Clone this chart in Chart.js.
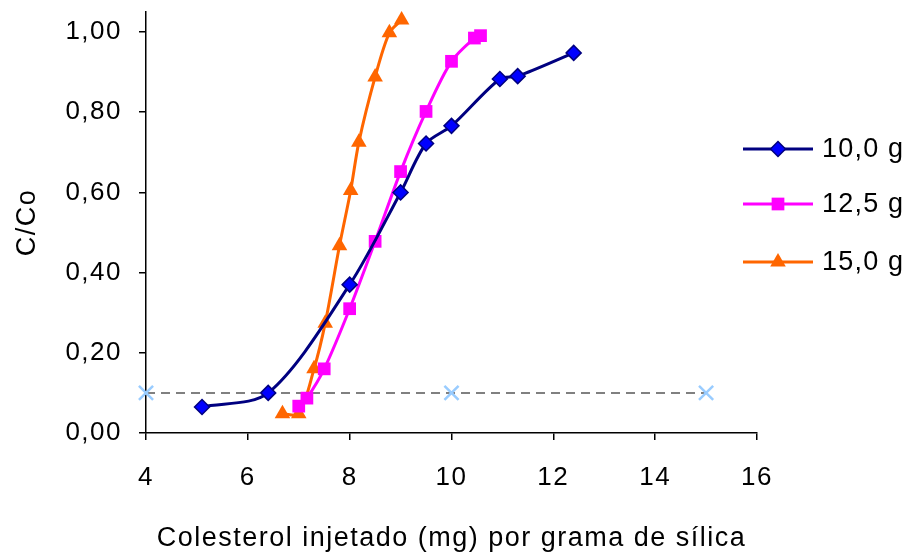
<!DOCTYPE html>
<html>
<head>
<meta charset="utf-8">
<script src="https://cdn.jsdelivr.net/npm/chart.js@4.4.1/dist/chart.umd.min.js"></script>
<style>
  html, body { margin: 0; padding: 0; background: #fff; }
  #wrap { width: 911px; height: 555px; position: relative; }
</style>
</head>
<body>
<div id="wrap"><canvas id="c" width="911" height="555"></canvas></div>
<script>
// Breakthrough curves: C/Co versus cholesterol injected per gram of silica
const x10 = [5.1, 6.4, 8.0, 9.0, 9.5, 10.0, 10.95, 11.3, 12.4];
const y10 = [0.065, 0.10, 0.37, 0.60, 0.722, 0.766, 0.883, 0.89, 0.948];

const x125 = [7.0, 7.16, 7.5, 8.0, 8.5, 9.0, 9.5, 10.0, 10.45, 10.57];
const y125 = [0.067, 0.087, 0.16, 0.31, 0.478, 0.652, 0.802, 0.927, 0.985, 0.991];

const x15 = [6.68, 7.0, 7.3, 7.52, 7.8, 8.02, 8.18, 8.5, 8.78, 9.02];
const y15 = [0.048, 0.048, 0.16, 0.274, 0.467, 0.605, 0.725, 0.888, 0.998, 1.03];

// 10 % breakthrough reference
const xRef = [4, 10, 15];
const yRef = [0.10, 0.10, 0.10];

const seriesNames = ['10,0 g', '12,5 g', '15,0 g'];
const xTicks = [4, 6, 8, 10, 12, 14, 16];
const yTicks = [0, 0.2, 0.4, 0.6, 0.8, 1.0];

const FONT = "'Liberation Sans', Arial, sans-serif";
const pts = (xs, ys) => xs.map((v, i) => ({ x: v, y: ys[i] }));

const datasets = [
  {
    label: seriesNames[0], data: pts(x10, y10),
    borderColor: '#000080', borderWidth: 3, tension: 0.3,
    pointStyle: 'rectRot', pointRadius: 7.5, pointBackgroundColor: '#0000ff',
    pointBorderColor: '#000080', pointBorderWidth: 1.5
  },
  {
    label: seriesNames[1], data: pts(x125, y125),
    borderColor: '#ff00ff', borderWidth: 3, tension: 0.3,
    pointStyle: 'rect', pointRadius: 9, pointBackgroundColor: '#ff00ff',
    pointBorderColor: '#ff00ff', pointBorderWidth: 0
  },
  {
    label: seriesNames[2], data: pts(x15, y15),
    borderColor: '#ff6600', borderWidth: 3, tension: 0.3,
    pointStyle: 'triangle', pointRadius: 9, pointBackgroundColor: '#ff6600',
    pointBorderColor: '#ff6600', pointBorderWidth: 0
  },
  {
    label: 'ref', data: pts(xRef, yRef),
    borderColor: '#808080', borderWidth: 2, borderDash: [9, 6], tension: 0,
    pointStyle: 'crossRot', pointRadius: 10, pointBorderColor: '#99ccff',
    pointBackgroundColor: '#99ccff', pointBorderWidth: 2.5
  }
];

function drawMarker(ctx, ds, x, y) {
  ctx.save();
  ctx.fillStyle = ds.pointBackgroundColor;
  ctx.strokeStyle = ds.pointBorderColor;
  ctx.lineWidth = ds.pointBorderWidth;
  Chart.helpers.drawPoint(ctx, {
    pointStyle: ds.pointStyle, radius: ds.pointRadius,
    borderWidth: ds.pointBorderWidth, rotation: 0
  }, x, y);
  ctx.restore();
}

// Slightly wider text spacing for every label on the canvas
const textSpacing = {
  id: 'textSpacing',
  beforeDraw(chart) { chart.ctx.letterSpacing = '1.5px'; }
};

// Legend drawn at the right: short line with the series marker, then the label
const sideLegend = {
  id: 'sideLegend',
  afterDraw(chart) {
    const ctx = chart.ctx;
    const rows = [149, 204, 262];
    ctx.save();
    ctx.letterSpacing = '1.2px';
    for (let i = 0; i < 3; i++) {
      const ds = chart.data.datasets[i];
      const y = rows[i];
      ctx.strokeStyle = ds.borderColor;
      ctx.lineWidth = 3;
      ctx.beginPath();
      ctx.moveTo(743, y);
      ctx.lineTo(813, y);
      ctx.stroke();
      drawMarker(ctx, ds, 778, y);
      ctx.fillStyle = '#000';
      ctx.font = '27px ' + FONT;
      ctx.textBaseline = 'middle';
      ctx.textAlign = 'left';
      ctx.fillText(ds.label, 822, y + 1);
    }
    ctx.restore();
  }
};

const fmt = v => v.toFixed(2).replace('.', ',');

new Chart(document.getElementById('c'), {
  type: 'line',
  data: { datasets },
  plugins: [textSpacing, sideLegend],
  options: {
    responsive: false,
    animation: false,
    devicePixelRatio: 1,
    layout: { autoPadding: false, padding: { top: 12, right: 154, left: 0, bottom: 0 } },
    plugins: { legend: { display: false }, tooltip: { enabled: false } },
    datasets: { line: { clip: false, fill: false } },
    scales: {
      x: {
        type: 'linear', min: 4, max: 16,
        afterFit: s => { s.height = 122; s.paddingLeft = 0; s.paddingRight = 0; },
        afterBuildTicks: s => { s.ticks = xTicks.map(v => ({ value: v })); },
        border: { display: true, color: '#000', width: 1.5 },
        grid: { drawOnChartArea: false, drawTicks: true, tickLength: 7, tickColor: '#000', lineWidth: 1.5 },
        ticks: { color: '#000', font: { family: FONT, size: 26 }, padding: 22, maxRotation: 0, callback: v => String(v) },
        title: { display: true, text: 'Colesterol injetado (mg) por grama de sílica', color: '#000',
                 font: { family: FONT, size: 27 }, padding: { top: 0, bottom: 0 } }
      },
      y: {
        type: 'linear', min: 0, max: 1.05,
        afterFit: s => { s.width = 146; s.paddingTop = 0; s.paddingBottom = 0; },
        afterBuildTicks: s => { s.ticks = yTicks.map(v => ({ value: v })); },
        border: { display: true, color: '#000', width: 1.5 },
        grid: { drawOnChartArea: false, drawTicks: true, tickLength: 7, tickColor: '#000', lineWidth: 1.5 },
        ticks: { color: '#000', font: { family: FONT, size: 26 }, padding: 17, callback: v => fmt(v) },
        title: { display: true, text: 'C/Co', color: '#000',
                 font: { family: FONT, size: 27 }, padding: { top: 11, bottom: 0 } }
      }
    }
  }
});
</script>
</body>
</html>
